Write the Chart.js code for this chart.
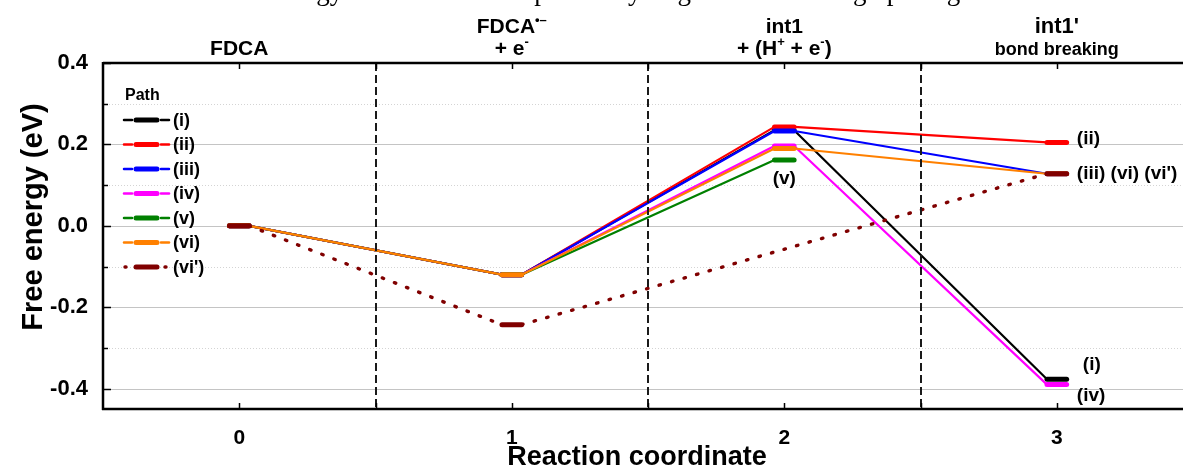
<!DOCTYPE html>
<html>
<head>
<meta charset="utf-8">
<title>Free energy diagram</title>
<script src="https://cdn.jsdelivr.net/npm/chart.js@4.4.1/dist/chart.umd.min.js"></script>
<style>
  html, body { margin: 0; padding: 0; background: #fff; overflow: hidden; }
  #wrap { position: relative; width: 1183px; height: 468px; }
  #chart { position: absolute; left: 0; top: 0; }
  #doc { position: absolute; right: 216px; top: -22px; font: 27px/27px "Liberation Serif", "Times New Roman", serif; white-space: nowrap; color: #000; }
</style>
</head>
<body>
<div id="wrap">
  <canvas id="chart" width="1183" height="468"></canvas>
  <div id="doc">calculate the free energy barriers for site-specific hydrogenation and ring opening.</div>
</div>
<script>
const FONT = '"Liberation Sans", Arial, sans-serif';

// reaction coordinates and tick labels
const coords = [0, 1, 2, 3];
const xTicks = [0, 1, 2, 3];
const xMinor = [0.5, 1.5, 2.5];
const yTicks = [-0.4, -0.2, 0, 0.2, 0.4];
const yMinor = [-0.3, -0.1, 0.1, 0.3];
const xTitle = 'Reaction coordinate';
const yTitle = 'Free energy (eV)';

// free energy (eV) for each path at coords 0..3 (null = no state)
const pathLabels = ['(i)', '(ii)', '(iii)', '(iv)', '(v)', '(vi)', "(vi')"];
const pathColors = ['#000000', '#ff0000', '#0000ff', '#ff00ff', '#008000', '#ff8000', '#800000'];
const energyI   = [0, -0.12, 0.235, -0.377];
const energyII  = [0, -0.12, 0.243, 0.205];
const energyIII = [0, -0.12, 0.233, 0.128];
const energyIV  = [0, -0.12, 0.196, -0.390];
const energyV   = [0, -0.12, 0.162, null];
const energyVI  = [0, -0.12, 0.190, 0.128];
const energyVIp = [0, -0.243, null, 0.128];
const energies = [energyI, energyII, energyIII, energyIV, energyV, energyVI, energyVIp];

// stage labels above the plot, runs of [text, superscript?]
const stageLine1 = [
  [],
  [['FDCA', false], ['\u2022\u2013', true]],
  [['int1', false]],
  [["int1'", false]]
];
const stageLine2 = [
  [['FDCA', false]],
  [['+ e', false], ['-', true]],
  [['+ (H', false], ['+', true], [' + e', false], ['-', true], [')', false]],
  [['bond breaking', false]]
];

// path labels next to the states
const stateNotes = [
  { text: '(ii)', x: 3, y: energyII[3], dx: 20, dy: -4, align: 'left' },
  { text: "(iii) (vi) (vi')", x: 3, y: energyIII[3], dx: 20, dy: 0, align: 'left' },
  { text: '(i)', x: 3, y: energyI[3], dx: 26, dy: -15, align: 'left' },
  { text: '(iv)', x: 3, y: energyIV[3], dx: 20, dy: 11, align: 'left' },
  { text: '(v)', x: 2, y: energyV[2], dx: 0, dy: 19, align: 'center' }
];

const HALF = 0.036; // half width of a state bar, in coordinate units

function buildPoints(values) {
  const pts = [];
  values.forEach((v, i) => {
    if (v === null) return;
    pts.push({ x: coords[i] - HALF, y: v });
    pts.push({ x: coords[i] + HALF, y: v });
  });
  return pts;
}

const isBar = c => c.p0DataIndex % 2 === 0 && c.p1DataIndex === c.p0DataIndex + 1;

const datasets = energies.map((vals, i) => {
  const dotted = i === 6;
  return {
    label: pathLabels[i],
    data: buildPoints(vals),
    borderColor: pathColors[i],
    borderWidth: 2,
    borderCapStyle: 'round',
    pointRadius: 0,
    fill: false,
    tension: 0,
    order: 6 - i,
    segment: {
      borderWidth: c => isBar(c) ? 5 : (dotted ? 3.4 : 2.2),
      borderDash: c => (!isBar(c) && dotted) ? [1.5, 11.5] : undefined
    }
  };
});

function richText(ctx, runs, cx, baseline, size) {
  const parts = runs.map(([t, sup]) => {
    ctx.font = 'bold ' + (sup ? Math.round(size * 0.6) : size) + 'px ' + FONT;
    return { t, sup, w: ctx.measureText(t).width };
  });
  const total = parts.reduce((s, p) => s + p.w, 0);
  let px = cx - total / 2;
  ctx.textAlign = 'left';
  ctx.textBaseline = 'alphabetic';
  parts.forEach(p => {
    ctx.font = 'bold ' + (p.sup ? Math.round(size * 0.6) : size) + 'px ' + FONT;
    ctx.fillText(p.t, px, p.sup ? baseline - size * 0.42 : baseline);
    px += p.w;
  });
}

function seg(ctx, x1, y1, x2, y2) {
  ctx.beginPath();
  ctx.moveTo(x1, y1);
  ctx.lineTo(x2, y2);
  ctx.stroke();
}

const diagramPlugin = {
  id: 'diagram',
  beforeDatasetsDraw(chart) {
    const { ctx, chartArea: a, scales: { y } } = chart;
    ctx.save();
    ctx.lineWidth = 1;
    ctx.strokeStyle = '#c4c4c4';
    yTicks.forEach(v => {
      if (v >= y.max) return;
      const py = Math.round(y.getPixelForValue(v)) + 0.5;
      seg(ctx, a.left, py, a.right, py);
    });
    ctx.strokeStyle = '#d4d4d4';
    ctx.setLineDash([1, 2]);
    yMinor.forEach(v => {
      const py = Math.round(y.getPixelForValue(v)) + 0.5;
      seg(ctx, a.left, py, a.right, py);
    });
    ctx.restore();
  },
  afterDatasetsDraw(chart) {
    const { ctx, chartArea: a, scales: { x, y } } = chart;
    ctx.save();
    // stage dividers
    ctx.strokeStyle = '#1a1a1a';
    ctx.lineWidth = 2;
    ctx.setLineDash([8, 4]);
    xMinor.forEach(v => {
      const px = Math.round(x.getPixelForValue(v));
      seg(ctx, px, a.top, px, a.bottom);
    });
    ctx.setLineDash([]);
    // frame
    ctx.strokeStyle = '#000';
    ctx.lineWidth = 2.5;
    seg(ctx, a.left, a.top, a.right, a.top);
    seg(ctx, a.left - 1, a.bottom, a.right, a.bottom);
    seg(ctx, a.left, a.top - 1, a.left, a.bottom + 1);
    // inward ticks
    ctx.lineWidth = 1.5;
    xTicks.concat(xMinor).forEach(v => {
      const px = Math.round(x.getPixelForValue(v)) + 0.5;
      seg(ctx, px, a.bottom, px, a.bottom - 6);
      seg(ctx, px, a.top, px, a.top + 6);
    });
    yTicks.forEach(v => {
      const py = Math.round(y.getPixelForValue(v)) + 0.5;
      seg(ctx, a.left, py, a.left + 8, py);
    });
    yMinor.forEach(v => {
      const py = Math.round(y.getPixelForValue(v)) + 0.5;
      seg(ctx, a.left, py, a.left + 5, py);
    });
    // axis titles
    ctx.fillStyle = '#000';
    ctx.textBaseline = 'alphabetic';
    ctx.textAlign = 'center';
    ctx.font = 'bold 27px ' + FONT;
    ctx.fillText(xTitle, 637, 465);
    ctx.save();
    ctx.translate(42, 217);
    ctx.rotate(-Math.PI / 2);
    ctx.font = 'bold 29px ' + FONT;
    ctx.fillText(yTitle, 0, 0);
    ctx.restore();
    // stage labels
    coords.forEach((c, i) => {
      const cx = x.getPixelForValue(c);
      if (stageLine1[i].length) richText(ctx, stageLine1[i], cx, 33, i === 3 ? 22 : 21);
      richText(ctx, stageLine2[i], cx, 55, i === 3 ? 18 : 21);
    });
    // state notes
    ctx.font = 'bold 19px ' + FONT;
    ctx.textBaseline = 'middle';
    stateNotes.forEach(n => {
      ctx.textAlign = n.align;
      ctx.fillText(n.text, x.getPixelForValue(n.x) + n.dx, y.getPixelForValue(n.y) + n.dy);
    });
    // legend
    ctx.textAlign = 'left';
    ctx.font = 'bold 16px ' + FONT;
    ctx.fillText('Path', 125, 96);
    ctx.font = 'bold 18px ' + FONT;
    pathLabels.forEach((lab, i) => {
      const ly = 120 + i * 24.5;
      ctx.strokeStyle = pathColors[i];
      ctx.lineCap = 'round';
      if (i === 6) {
        ctx.lineWidth = 3.4;
        seg(ctx, 125, ly, 126, ly);
        seg(ctx, 165, ly, 166, ly);
      } else {
        ctx.lineWidth = 2.5;
        seg(ctx, 124, ly, 132, ly);
        seg(ctx, 161, ly, 169, ly);
      }
      ctx.lineWidth = 5;
      seg(ctx, 136, ly, 157, ly);
      ctx.fillText(lab, 173, ly + 1);
    });
    ctx.restore();
  }
};

new Chart(document.getElementById('chart'), {
  type: 'line',
  data: { datasets },
  plugins: [diagramPlugin],
  options: {
    responsive: false,
    animation: false,
    layout: { padding: { top: 63, left: 0, right: 0, bottom: 0 } },
    plugins: { legend: { display: false }, tooltip: { enabled: false } },
    scales: {
      x: {
        type: 'linear',
        min: -0.5,
        max: 3.463,
        afterBuildTicks: s => { s.ticks = xTicks.concat(xMinor).sort((a, b) => a - b).map(v => ({ value: v })); },
        afterFit: s => { s.height = 59; },
        grid: { display: false },
        border: { display: false },
        ticks: {
          autoSkip: false,
          maxRotation: 0,
          padding: 9,
          color: '#000',
          font: { family: FONT, size: 21, weight: 'bold' },
          callback: v => xTicks.includes(v) ? String(v) : ''
        }
      },
      y: {
        min: -0.45,
        max: 0.4,
        afterBuildTicks: s => { s.ticks = yTicks.map(v => ({ value: v })); },
        afterFit: s => { s.width = 103; },
        grid: { display: false },
        border: { display: false },
        ticks: {
          padding: 7,
          color: '#000',
          font: { family: FONT, size: 22, weight: 'bold' },
          callback: v => v.toFixed(1)
        }
      }
    }
  }
});
</script>
</body>
</html>
